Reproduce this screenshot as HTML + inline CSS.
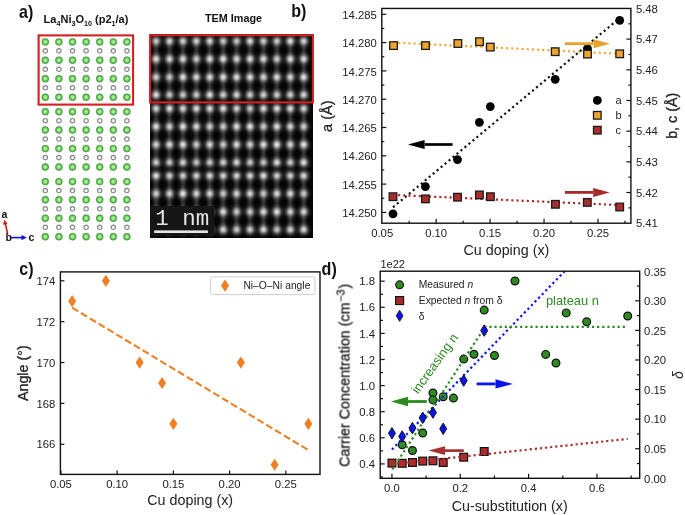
<!DOCTYPE html><html><head><meta charset="utf-8"><style>html,body{margin:0;padding:0;background:#fff;}svg{display:block;will-change:transform;}text{font-family:"Liberation Sans",sans-serif;}</style></head><body>
<svg width="685" height="515" viewBox="0 0 685 515">
<defs><radialGradient id="gg" cx="50%" cy="50%" r="50%"><stop offset="0" stop-color="#c4f9b4"/><stop offset="0.45" stop-color="#92e27e"/><stop offset="0.8" stop-color="#55b24c"/><stop offset="1" stop-color="#3f9a3a"/></radialGradient><radialGradient id="spot" cx="50%" cy="50%" r="50%"><stop offset="0" stop-color="#fff" stop-opacity="0.95"/><stop offset="0.35" stop-color="#fff" stop-opacity="0.75"/><stop offset="0.7" stop-color="#fff" stop-opacity="0.25"/><stop offset="1" stop-color="#fff" stop-opacity="0"/></radialGradient><radialGradient id="spot2" cx="50%" cy="50%" r="50%"><stop offset="0" stop-color="#fff" stop-opacity="0.32"/><stop offset="1" stop-color="#fff" stop-opacity="0"/></radialGradient></defs>
<text x="0" y="0" font-size="17.5" font-weight="bold" fill="#111" transform="translate(19.0 18.3) scale(0.92 1)">a)</text>
<text x="43.6" y="23" font-size="11" font-weight="bold" fill="#111">La<tspan font-size="7.2" dy="3">4</tspan><tspan dy="-3">Ni</tspan><tspan font-size="7.2" dy="3">3</tspan><tspan dy="-3">O</tspan><tspan font-size="7.2" dy="3">10</tspan><tspan dy="-3"> (p2</tspan><tspan font-size="7.2" dy="3">1</tspan><tspan dy="-3">/a)</tspan></text>
<circle cx="45.3" cy="41.9" r="3.45" fill="url(#gg)" stroke="#48a042" stroke-width="0.7"/>
<circle cx="58.9" cy="41.9" r="3.45" fill="url(#gg)" stroke="#48a042" stroke-width="0.7"/>
<circle cx="72.5" cy="41.9" r="3.45" fill="url(#gg)" stroke="#48a042" stroke-width="0.7"/>
<circle cx="86.1" cy="41.9" r="3.45" fill="url(#gg)" stroke="#48a042" stroke-width="0.7"/>
<circle cx="99.7" cy="41.9" r="3.45" fill="url(#gg)" stroke="#48a042" stroke-width="0.7"/>
<circle cx="113.3" cy="41.9" r="3.45" fill="url(#gg)" stroke="#48a042" stroke-width="0.7"/>
<circle cx="126.9" cy="41.9" r="3.45" fill="url(#gg)" stroke="#48a042" stroke-width="0.7"/>
<circle cx="45.3" cy="50.85" r="2.2" fill="#f6f6f6" stroke="#888" stroke-width="1.15"/>
<circle cx="58.9" cy="50.85" r="2.2" fill="#f6f6f6" stroke="#888" stroke-width="1.15"/>
<circle cx="72.5" cy="50.85" r="2.2" fill="#f6f6f6" stroke="#888" stroke-width="1.15"/>
<circle cx="86.1" cy="50.85" r="2.2" fill="#f6f6f6" stroke="#888" stroke-width="1.15"/>
<circle cx="99.7" cy="50.85" r="2.2" fill="#f6f6f6" stroke="#888" stroke-width="1.15"/>
<circle cx="113.3" cy="50.85" r="2.2" fill="#f6f6f6" stroke="#888" stroke-width="1.15"/>
<circle cx="126.9" cy="50.85" r="2.2" fill="#f6f6f6" stroke="#888" stroke-width="1.15"/>
<circle cx="45.3" cy="60.2" r="3.45" fill="url(#gg)" stroke="#48a042" stroke-width="0.7"/>
<circle cx="58.9" cy="60.2" r="3.45" fill="url(#gg)" stroke="#48a042" stroke-width="0.7"/>
<circle cx="72.5" cy="60.2" r="3.45" fill="url(#gg)" stroke="#48a042" stroke-width="0.7"/>
<circle cx="86.1" cy="60.2" r="3.45" fill="url(#gg)" stroke="#48a042" stroke-width="0.7"/>
<circle cx="99.7" cy="60.2" r="3.45" fill="url(#gg)" stroke="#48a042" stroke-width="0.7"/>
<circle cx="113.3" cy="60.2" r="3.45" fill="url(#gg)" stroke="#48a042" stroke-width="0.7"/>
<circle cx="126.9" cy="60.2" r="3.45" fill="url(#gg)" stroke="#48a042" stroke-width="0.7"/>
<circle cx="45.3" cy="69.25" r="2.2" fill="#f6f6f6" stroke="#888" stroke-width="1.15"/>
<circle cx="58.9" cy="69.25" r="2.2" fill="#f6f6f6" stroke="#888" stroke-width="1.15"/>
<circle cx="72.5" cy="69.25" r="2.2" fill="#f6f6f6" stroke="#888" stroke-width="1.15"/>
<circle cx="86.1" cy="69.25" r="2.2" fill="#f6f6f6" stroke="#888" stroke-width="1.15"/>
<circle cx="99.7" cy="69.25" r="2.2" fill="#f6f6f6" stroke="#888" stroke-width="1.15"/>
<circle cx="113.3" cy="69.25" r="2.2" fill="#f6f6f6" stroke="#888" stroke-width="1.15"/>
<circle cx="126.9" cy="69.25" r="2.2" fill="#f6f6f6" stroke="#888" stroke-width="1.15"/>
<circle cx="45.3" cy="78.7" r="3.45" fill="url(#gg)" stroke="#48a042" stroke-width="0.7"/>
<circle cx="58.9" cy="78.7" r="3.45" fill="url(#gg)" stroke="#48a042" stroke-width="0.7"/>
<circle cx="72.5" cy="78.7" r="3.45" fill="url(#gg)" stroke="#48a042" stroke-width="0.7"/>
<circle cx="86.1" cy="78.7" r="3.45" fill="url(#gg)" stroke="#48a042" stroke-width="0.7"/>
<circle cx="99.7" cy="78.7" r="3.45" fill="url(#gg)" stroke="#48a042" stroke-width="0.7"/>
<circle cx="113.3" cy="78.7" r="3.45" fill="url(#gg)" stroke="#48a042" stroke-width="0.7"/>
<circle cx="126.9" cy="78.7" r="3.45" fill="url(#gg)" stroke="#48a042" stroke-width="0.7"/>
<circle cx="45.3" cy="87.75" r="2.2" fill="#f6f6f6" stroke="#888" stroke-width="1.15"/>
<circle cx="58.9" cy="87.75" r="2.2" fill="#f6f6f6" stroke="#888" stroke-width="1.15"/>
<circle cx="72.5" cy="87.75" r="2.2" fill="#f6f6f6" stroke="#888" stroke-width="1.15"/>
<circle cx="86.1" cy="87.75" r="2.2" fill="#f6f6f6" stroke="#888" stroke-width="1.15"/>
<circle cx="99.7" cy="87.75" r="2.2" fill="#f6f6f6" stroke="#888" stroke-width="1.15"/>
<circle cx="113.3" cy="87.75" r="2.2" fill="#f6f6f6" stroke="#888" stroke-width="1.15"/>
<circle cx="126.9" cy="87.75" r="2.2" fill="#f6f6f6" stroke="#888" stroke-width="1.15"/>
<circle cx="45.3" cy="97.2" r="3.45" fill="url(#gg)" stroke="#48a042" stroke-width="0.7"/>
<circle cx="58.9" cy="97.2" r="3.45" fill="url(#gg)" stroke="#48a042" stroke-width="0.7"/>
<circle cx="72.5" cy="97.2" r="3.45" fill="url(#gg)" stroke="#48a042" stroke-width="0.7"/>
<circle cx="86.1" cy="97.2" r="3.45" fill="url(#gg)" stroke="#48a042" stroke-width="0.7"/>
<circle cx="99.7" cy="97.2" r="3.45" fill="url(#gg)" stroke="#48a042" stroke-width="0.7"/>
<circle cx="113.3" cy="97.2" r="3.45" fill="url(#gg)" stroke="#48a042" stroke-width="0.7"/>
<circle cx="126.9" cy="97.2" r="3.45" fill="url(#gg)" stroke="#48a042" stroke-width="0.7"/>
<circle cx="45.3" cy="111.7" r="3.45" fill="url(#gg)" stroke="#48a042" stroke-width="0.7"/>
<circle cx="58.9" cy="111.7" r="3.45" fill="url(#gg)" stroke="#48a042" stroke-width="0.7"/>
<circle cx="72.5" cy="111.7" r="3.45" fill="url(#gg)" stroke="#48a042" stroke-width="0.7"/>
<circle cx="86.1" cy="111.7" r="3.45" fill="url(#gg)" stroke="#48a042" stroke-width="0.7"/>
<circle cx="99.7" cy="111.7" r="3.45" fill="url(#gg)" stroke="#48a042" stroke-width="0.7"/>
<circle cx="113.3" cy="111.7" r="3.45" fill="url(#gg)" stroke="#48a042" stroke-width="0.7"/>
<circle cx="126.9" cy="111.7" r="3.45" fill="url(#gg)" stroke="#48a042" stroke-width="0.7"/>
<circle cx="45.3" cy="120.65" r="2.2" fill="#f6f6f6" stroke="#888" stroke-width="1.15"/>
<circle cx="58.9" cy="120.65" r="2.2" fill="#f6f6f6" stroke="#888" stroke-width="1.15"/>
<circle cx="72.5" cy="120.65" r="2.2" fill="#f6f6f6" stroke="#888" stroke-width="1.15"/>
<circle cx="86.1" cy="120.65" r="2.2" fill="#f6f6f6" stroke="#888" stroke-width="1.15"/>
<circle cx="99.7" cy="120.65" r="2.2" fill="#f6f6f6" stroke="#888" stroke-width="1.15"/>
<circle cx="113.3" cy="120.65" r="2.2" fill="#f6f6f6" stroke="#888" stroke-width="1.15"/>
<circle cx="126.9" cy="120.65" r="2.2" fill="#f6f6f6" stroke="#888" stroke-width="1.15"/>
<circle cx="45.3" cy="130" r="3.45" fill="url(#gg)" stroke="#48a042" stroke-width="0.7"/>
<circle cx="58.9" cy="130" r="3.45" fill="url(#gg)" stroke="#48a042" stroke-width="0.7"/>
<circle cx="72.5" cy="130" r="3.45" fill="url(#gg)" stroke="#48a042" stroke-width="0.7"/>
<circle cx="86.1" cy="130" r="3.45" fill="url(#gg)" stroke="#48a042" stroke-width="0.7"/>
<circle cx="99.7" cy="130" r="3.45" fill="url(#gg)" stroke="#48a042" stroke-width="0.7"/>
<circle cx="113.3" cy="130" r="3.45" fill="url(#gg)" stroke="#48a042" stroke-width="0.7"/>
<circle cx="126.9" cy="130" r="3.45" fill="url(#gg)" stroke="#48a042" stroke-width="0.7"/>
<circle cx="45.3" cy="139.1" r="2.2" fill="#f6f6f6" stroke="#888" stroke-width="1.15"/>
<circle cx="58.9" cy="139.1" r="2.2" fill="#f6f6f6" stroke="#888" stroke-width="1.15"/>
<circle cx="72.5" cy="139.1" r="2.2" fill="#f6f6f6" stroke="#888" stroke-width="1.15"/>
<circle cx="86.1" cy="139.1" r="2.2" fill="#f6f6f6" stroke="#888" stroke-width="1.15"/>
<circle cx="99.7" cy="139.1" r="2.2" fill="#f6f6f6" stroke="#888" stroke-width="1.15"/>
<circle cx="113.3" cy="139.1" r="2.2" fill="#f6f6f6" stroke="#888" stroke-width="1.15"/>
<circle cx="126.9" cy="139.1" r="2.2" fill="#f6f6f6" stroke="#888" stroke-width="1.15"/>
<circle cx="45.3" cy="148.6" r="3.45" fill="url(#gg)" stroke="#48a042" stroke-width="0.7"/>
<circle cx="58.9" cy="148.6" r="3.45" fill="url(#gg)" stroke="#48a042" stroke-width="0.7"/>
<circle cx="72.5" cy="148.6" r="3.45" fill="url(#gg)" stroke="#48a042" stroke-width="0.7"/>
<circle cx="86.1" cy="148.6" r="3.45" fill="url(#gg)" stroke="#48a042" stroke-width="0.7"/>
<circle cx="99.7" cy="148.6" r="3.45" fill="url(#gg)" stroke="#48a042" stroke-width="0.7"/>
<circle cx="113.3" cy="148.6" r="3.45" fill="url(#gg)" stroke="#48a042" stroke-width="0.7"/>
<circle cx="126.9" cy="148.6" r="3.45" fill="url(#gg)" stroke="#48a042" stroke-width="0.7"/>
<circle cx="45.3" cy="157.6" r="2.2" fill="#f6f6f6" stroke="#888" stroke-width="1.15"/>
<circle cx="58.9" cy="157.6" r="2.2" fill="#f6f6f6" stroke="#888" stroke-width="1.15"/>
<circle cx="72.5" cy="157.6" r="2.2" fill="#f6f6f6" stroke="#888" stroke-width="1.15"/>
<circle cx="86.1" cy="157.6" r="2.2" fill="#f6f6f6" stroke="#888" stroke-width="1.15"/>
<circle cx="99.7" cy="157.6" r="2.2" fill="#f6f6f6" stroke="#888" stroke-width="1.15"/>
<circle cx="113.3" cy="157.6" r="2.2" fill="#f6f6f6" stroke="#888" stroke-width="1.15"/>
<circle cx="126.9" cy="157.6" r="2.2" fill="#f6f6f6" stroke="#888" stroke-width="1.15"/>
<circle cx="45.3" cy="167" r="3.45" fill="url(#gg)" stroke="#48a042" stroke-width="0.7"/>
<circle cx="58.9" cy="167" r="3.45" fill="url(#gg)" stroke="#48a042" stroke-width="0.7"/>
<circle cx="72.5" cy="167" r="3.45" fill="url(#gg)" stroke="#48a042" stroke-width="0.7"/>
<circle cx="86.1" cy="167" r="3.45" fill="url(#gg)" stroke="#48a042" stroke-width="0.7"/>
<circle cx="99.7" cy="167" r="3.45" fill="url(#gg)" stroke="#48a042" stroke-width="0.7"/>
<circle cx="113.3" cy="167" r="3.45" fill="url(#gg)" stroke="#48a042" stroke-width="0.7"/>
<circle cx="126.9" cy="167" r="3.45" fill="url(#gg)" stroke="#48a042" stroke-width="0.7"/>
<circle cx="45.3" cy="181.6" r="3.45" fill="url(#gg)" stroke="#48a042" stroke-width="0.7"/>
<circle cx="58.9" cy="181.6" r="3.45" fill="url(#gg)" stroke="#48a042" stroke-width="0.7"/>
<circle cx="72.5" cy="181.6" r="3.45" fill="url(#gg)" stroke="#48a042" stroke-width="0.7"/>
<circle cx="86.1" cy="181.6" r="3.45" fill="url(#gg)" stroke="#48a042" stroke-width="0.7"/>
<circle cx="99.7" cy="181.6" r="3.45" fill="url(#gg)" stroke="#48a042" stroke-width="0.7"/>
<circle cx="113.3" cy="181.6" r="3.45" fill="url(#gg)" stroke="#48a042" stroke-width="0.7"/>
<circle cx="126.9" cy="181.6" r="3.45" fill="url(#gg)" stroke="#48a042" stroke-width="0.7"/>
<circle cx="45.3" cy="190.5" r="2.2" fill="#f6f6f6" stroke="#888" stroke-width="1.15"/>
<circle cx="58.9" cy="190.5" r="2.2" fill="#f6f6f6" stroke="#888" stroke-width="1.15"/>
<circle cx="72.5" cy="190.5" r="2.2" fill="#f6f6f6" stroke="#888" stroke-width="1.15"/>
<circle cx="86.1" cy="190.5" r="2.2" fill="#f6f6f6" stroke="#888" stroke-width="1.15"/>
<circle cx="99.7" cy="190.5" r="2.2" fill="#f6f6f6" stroke="#888" stroke-width="1.15"/>
<circle cx="113.3" cy="190.5" r="2.2" fill="#f6f6f6" stroke="#888" stroke-width="1.15"/>
<circle cx="126.9" cy="190.5" r="2.2" fill="#f6f6f6" stroke="#888" stroke-width="1.15"/>
<circle cx="45.3" cy="199.8" r="3.45" fill="url(#gg)" stroke="#48a042" stroke-width="0.7"/>
<circle cx="58.9" cy="199.8" r="3.45" fill="url(#gg)" stroke="#48a042" stroke-width="0.7"/>
<circle cx="72.5" cy="199.8" r="3.45" fill="url(#gg)" stroke="#48a042" stroke-width="0.7"/>
<circle cx="86.1" cy="199.8" r="3.45" fill="url(#gg)" stroke="#48a042" stroke-width="0.7"/>
<circle cx="99.7" cy="199.8" r="3.45" fill="url(#gg)" stroke="#48a042" stroke-width="0.7"/>
<circle cx="113.3" cy="199.8" r="3.45" fill="url(#gg)" stroke="#48a042" stroke-width="0.7"/>
<circle cx="126.9" cy="199.8" r="3.45" fill="url(#gg)" stroke="#48a042" stroke-width="0.7"/>
<circle cx="45.3" cy="208.8" r="2.2" fill="#f6f6f6" stroke="#888" stroke-width="1.15"/>
<circle cx="58.9" cy="208.8" r="2.2" fill="#f6f6f6" stroke="#888" stroke-width="1.15"/>
<circle cx="72.5" cy="208.8" r="2.2" fill="#f6f6f6" stroke="#888" stroke-width="1.15"/>
<circle cx="86.1" cy="208.8" r="2.2" fill="#f6f6f6" stroke="#888" stroke-width="1.15"/>
<circle cx="99.7" cy="208.8" r="2.2" fill="#f6f6f6" stroke="#888" stroke-width="1.15"/>
<circle cx="113.3" cy="208.8" r="2.2" fill="#f6f6f6" stroke="#888" stroke-width="1.15"/>
<circle cx="126.9" cy="208.8" r="2.2" fill="#f6f6f6" stroke="#888" stroke-width="1.15"/>
<circle cx="45.3" cy="218.2" r="3.45" fill="url(#gg)" stroke="#48a042" stroke-width="0.7"/>
<circle cx="58.9" cy="218.2" r="3.45" fill="url(#gg)" stroke="#48a042" stroke-width="0.7"/>
<circle cx="72.5" cy="218.2" r="3.45" fill="url(#gg)" stroke="#48a042" stroke-width="0.7"/>
<circle cx="86.1" cy="218.2" r="3.45" fill="url(#gg)" stroke="#48a042" stroke-width="0.7"/>
<circle cx="99.7" cy="218.2" r="3.45" fill="url(#gg)" stroke="#48a042" stroke-width="0.7"/>
<circle cx="113.3" cy="218.2" r="3.45" fill="url(#gg)" stroke="#48a042" stroke-width="0.7"/>
<circle cx="126.9" cy="218.2" r="3.45" fill="url(#gg)" stroke="#48a042" stroke-width="0.7"/>
<circle cx="45.3" cy="227.25" r="2.2" fill="#f6f6f6" stroke="#888" stroke-width="1.15"/>
<circle cx="58.9" cy="227.25" r="2.2" fill="#f6f6f6" stroke="#888" stroke-width="1.15"/>
<circle cx="72.5" cy="227.25" r="2.2" fill="#f6f6f6" stroke="#888" stroke-width="1.15"/>
<circle cx="86.1" cy="227.25" r="2.2" fill="#f6f6f6" stroke="#888" stroke-width="1.15"/>
<circle cx="99.7" cy="227.25" r="2.2" fill="#f6f6f6" stroke="#888" stroke-width="1.15"/>
<circle cx="113.3" cy="227.25" r="2.2" fill="#f6f6f6" stroke="#888" stroke-width="1.15"/>
<circle cx="126.9" cy="227.25" r="2.2" fill="#f6f6f6" stroke="#888" stroke-width="1.15"/>
<circle cx="45.3" cy="236.7" r="3.45" fill="url(#gg)" stroke="#48a042" stroke-width="0.7"/>
<circle cx="58.9" cy="236.7" r="3.45" fill="url(#gg)" stroke="#48a042" stroke-width="0.7"/>
<circle cx="72.5" cy="236.7" r="3.45" fill="url(#gg)" stroke="#48a042" stroke-width="0.7"/>
<circle cx="86.1" cy="236.7" r="3.45" fill="url(#gg)" stroke="#48a042" stroke-width="0.7"/>
<circle cx="99.7" cy="236.7" r="3.45" fill="url(#gg)" stroke="#48a042" stroke-width="0.7"/>
<circle cx="113.3" cy="236.7" r="3.45" fill="url(#gg)" stroke="#48a042" stroke-width="0.7"/>
<circle cx="126.9" cy="236.7" r="3.45" fill="url(#gg)" stroke="#48a042" stroke-width="0.7"/>
<rect x="38.6" y="35.4" width="94.5" height="69.2" fill="none" stroke="#d42020" stroke-width="2.1"/>
<line x1="11" y1="237.6" x2="22.5" y2="237.6" stroke="#1010e0" stroke-width="1.6"/>
<path d="M26.8 237.6L21.5 235L21.5 240.2Z" fill="#1010e0"/>
<line x1="7.6" y1="234" x2="5.4" y2="223.5" stroke="#d01c1c" stroke-width="1.6"/>
<path d="M4.5 219.4L3 224.8L7.6 224Z" fill="#d01c1c"/>
<text x="1.4" y="218" font-size="10.5" text-anchor="start" fill="#111" font-weight="bold" >a</text>
<text x="5.6" y="240.6" font-size="10.5" text-anchor="start" fill="#111" font-weight="bold" >b</text>
<text x="28.6" y="240.6" font-size="10.5" text-anchor="start" fill="#111" font-weight="bold" >c</text>
<text x="205" y="22.3" font-size="10.8" text-anchor="start" fill="#111" font-weight="bold" >TEM Image</text>
<svg x="150" y="34" width="163" height="203.6" overflow="hidden"><defs><filter id="bl" x="-10%" y="-10%" width="120%" height="120%"><feGaussianBlur stdDeviation="1.6"/></filter><radialGradient id="tsp" cx="50%" cy="50%" r="50%"><stop offset="0.000" stop-color="#fff" stop-opacity="0.880"/><stop offset="0.083" stop-color="#fff" stop-opacity="0.851"/><stop offset="0.167" stop-color="#fff" stop-opacity="0.770"/><stop offset="0.250" stop-color="#fff" stop-opacity="0.651"/><stop offset="0.333" stop-color="#fff" stop-opacity="0.515"/><stop offset="0.417" stop-color="#fff" stop-opacity="0.381"/><stop offset="0.500" stop-color="#fff" stop-opacity="0.264"/><stop offset="0.583" stop-color="#fff" stop-opacity="0.171"/><stop offset="0.667" stop-color="#fff" stop-opacity="0.104"/><stop offset="0.750" stop-color="#fff" stop-opacity="0.059"/><stop offset="0.833" stop-color="#fff" stop-opacity="0.031"/><stop offset="0.917" stop-color="#fff" stop-opacity="0.015"/><stop offset="1.000" stop-color="#fff" stop-opacity="0.000"/></radialGradient></defs><rect width="163" height="204" fill="#050505"/><g filter="url(#bl)">
<rect x="4.5" y="7" width="3.2" height="18" fill="#444"/>
<rect x="17.92" y="7" width="3.2" height="18" fill="#444"/>
<rect x="31.34" y="7" width="3.2" height="18" fill="#444"/>
<rect x="44.76" y="7" width="3.2" height="18" fill="#444"/>
<rect x="58.18" y="7" width="3.2" height="18" fill="#444"/>
<rect x="71.6" y="7" width="3.2" height="18" fill="#444"/>
<rect x="85.02" y="7" width="3.2" height="18" fill="#444"/>
<rect x="98.44" y="7" width="3.2" height="18" fill="#444"/>
<rect x="111.86" y="7" width="3.2" height="18" fill="#444"/>
<rect x="125.28" y="7" width="3.2" height="18" fill="#444"/>
<rect x="138.7" y="7" width="3.2" height="18" fill="#444"/>
<rect x="152.12" y="7" width="3.2" height="18" fill="#444"/>
<rect x="4.5" y="25" width="3.2" height="18.2" fill="#444"/>
<rect x="17.92" y="25" width="3.2" height="18.2" fill="#444"/>
<rect x="31.34" y="25" width="3.2" height="18.2" fill="#444"/>
<rect x="44.76" y="25" width="3.2" height="18.2" fill="#444"/>
<rect x="58.18" y="25" width="3.2" height="18.2" fill="#444"/>
<rect x="71.6" y="25" width="3.2" height="18.2" fill="#444"/>
<rect x="85.02" y="25" width="3.2" height="18.2" fill="#444"/>
<rect x="98.44" y="25" width="3.2" height="18.2" fill="#444"/>
<rect x="111.86" y="25" width="3.2" height="18.2" fill="#444"/>
<rect x="125.28" y="25" width="3.2" height="18.2" fill="#444"/>
<rect x="138.7" y="25" width="3.2" height="18.2" fill="#444"/>
<rect x="152.12" y="25" width="3.2" height="18.2" fill="#444"/>
<rect x="4.5" y="43.2" width="3.2" height="17.8" fill="#444"/>
<rect x="17.92" y="43.2" width="3.2" height="17.8" fill="#444"/>
<rect x="31.34" y="43.2" width="3.2" height="17.8" fill="#444"/>
<rect x="44.76" y="43.2" width="3.2" height="17.8" fill="#444"/>
<rect x="58.18" y="43.2" width="3.2" height="17.8" fill="#444"/>
<rect x="71.6" y="43.2" width="3.2" height="17.8" fill="#444"/>
<rect x="85.02" y="43.2" width="3.2" height="17.8" fill="#444"/>
<rect x="98.44" y="43.2" width="3.2" height="17.8" fill="#444"/>
<rect x="111.86" y="43.2" width="3.2" height="17.8" fill="#444"/>
<rect x="125.28" y="43.2" width="3.2" height="17.8" fill="#444"/>
<rect x="138.7" y="43.2" width="3.2" height="17.8" fill="#444"/>
<rect x="152.12" y="43.2" width="3.2" height="17.8" fill="#444"/>
<rect x="4.5" y="74.4" width="3.2" height="18.2" fill="#444"/>
<rect x="17.92" y="74.4" width="3.2" height="18.2" fill="#444"/>
<rect x="31.34" y="74.4" width="3.2" height="18.2" fill="#444"/>
<rect x="44.76" y="74.4" width="3.2" height="18.2" fill="#444"/>
<rect x="58.18" y="74.4" width="3.2" height="18.2" fill="#444"/>
<rect x="71.6" y="74.4" width="3.2" height="18.2" fill="#444"/>
<rect x="85.02" y="74.4" width="3.2" height="18.2" fill="#444"/>
<rect x="98.44" y="74.4" width="3.2" height="18.2" fill="#444"/>
<rect x="111.86" y="74.4" width="3.2" height="18.2" fill="#444"/>
<rect x="125.28" y="74.4" width="3.2" height="18.2" fill="#444"/>
<rect x="138.7" y="74.4" width="3.2" height="18.2" fill="#444"/>
<rect x="152.12" y="74.4" width="3.2" height="18.2" fill="#444"/>
<rect x="4.5" y="92.6" width="3.2" height="18" fill="#444"/>
<rect x="17.92" y="92.6" width="3.2" height="18" fill="#444"/>
<rect x="31.34" y="92.6" width="3.2" height="18" fill="#444"/>
<rect x="44.76" y="92.6" width="3.2" height="18" fill="#444"/>
<rect x="58.18" y="92.6" width="3.2" height="18" fill="#444"/>
<rect x="71.6" y="92.6" width="3.2" height="18" fill="#444"/>
<rect x="85.02" y="92.6" width="3.2" height="18" fill="#444"/>
<rect x="98.44" y="92.6" width="3.2" height="18" fill="#444"/>
<rect x="111.86" y="92.6" width="3.2" height="18" fill="#444"/>
<rect x="125.28" y="92.6" width="3.2" height="18" fill="#444"/>
<rect x="138.7" y="92.6" width="3.2" height="18" fill="#444"/>
<rect x="152.12" y="92.6" width="3.2" height="18" fill="#444"/>
<rect x="4.5" y="110.6" width="3.2" height="18" fill="#444"/>
<rect x="17.92" y="110.6" width="3.2" height="18" fill="#444"/>
<rect x="31.34" y="110.6" width="3.2" height="18" fill="#444"/>
<rect x="44.76" y="110.6" width="3.2" height="18" fill="#444"/>
<rect x="58.18" y="110.6" width="3.2" height="18" fill="#444"/>
<rect x="71.6" y="110.6" width="3.2" height="18" fill="#444"/>
<rect x="85.02" y="110.6" width="3.2" height="18" fill="#444"/>
<rect x="98.44" y="110.6" width="3.2" height="18" fill="#444"/>
<rect x="111.86" y="110.6" width="3.2" height="18" fill="#444"/>
<rect x="125.28" y="110.6" width="3.2" height="18" fill="#444"/>
<rect x="138.7" y="110.6" width="3.2" height="18" fill="#444"/>
<rect x="152.12" y="110.6" width="3.2" height="18" fill="#444"/>
<rect x="4.5" y="141.6" width="3.2" height="18" fill="#444"/>
<rect x="17.92" y="141.6" width="3.2" height="18" fill="#444"/>
<rect x="31.34" y="141.6" width="3.2" height="18" fill="#444"/>
<rect x="44.76" y="141.6" width="3.2" height="18" fill="#444"/>
<rect x="58.18" y="141.6" width="3.2" height="18" fill="#444"/>
<rect x="71.6" y="141.6" width="3.2" height="18" fill="#444"/>
<rect x="85.02" y="141.6" width="3.2" height="18" fill="#444"/>
<rect x="98.44" y="141.6" width="3.2" height="18" fill="#444"/>
<rect x="111.86" y="141.6" width="3.2" height="18" fill="#444"/>
<rect x="125.28" y="141.6" width="3.2" height="18" fill="#444"/>
<rect x="138.7" y="141.6" width="3.2" height="18" fill="#444"/>
<rect x="152.12" y="141.6" width="3.2" height="18" fill="#444"/>
<rect x="4.5" y="159.6" width="3.2" height="18.2" fill="#444"/>
<rect x="17.92" y="159.6" width="3.2" height="18.2" fill="#444"/>
<rect x="31.34" y="159.6" width="3.2" height="18.2" fill="#444"/>
<rect x="44.76" y="159.6" width="3.2" height="18.2" fill="#444"/>
<rect x="58.18" y="159.6" width="3.2" height="18.2" fill="#444"/>
<rect x="71.6" y="159.6" width="3.2" height="18.2" fill="#444"/>
<rect x="85.02" y="159.6" width="3.2" height="18.2" fill="#444"/>
<rect x="98.44" y="159.6" width="3.2" height="18.2" fill="#444"/>
<rect x="111.86" y="159.6" width="3.2" height="18.2" fill="#444"/>
<rect x="125.28" y="159.6" width="3.2" height="18.2" fill="#444"/>
<rect x="138.7" y="159.6" width="3.2" height="18.2" fill="#444"/>
<rect x="152.12" y="159.6" width="3.2" height="18.2" fill="#444"/>
<rect x="4.5" y="177.8" width="3.2" height="18" fill="#444"/>
<rect x="17.92" y="177.8" width="3.2" height="18" fill="#444"/>
<rect x="31.34" y="177.8" width="3.2" height="18" fill="#444"/>
<rect x="44.76" y="177.8" width="3.2" height="18" fill="#444"/>
<rect x="58.18" y="177.8" width="3.2" height="18" fill="#444"/>
<rect x="71.6" y="177.8" width="3.2" height="18" fill="#444"/>
<rect x="85.02" y="177.8" width="3.2" height="18" fill="#444"/>
<rect x="98.44" y="177.8" width="3.2" height="18" fill="#444"/>
<rect x="111.86" y="177.8" width="3.2" height="18" fill="#444"/>
<rect x="125.28" y="177.8" width="3.2" height="18" fill="#444"/>
<rect x="138.7" y="177.8" width="3.2" height="18" fill="#444"/>
<rect x="152.12" y="177.8" width="3.2" height="18" fill="#444"/>
</g>
<circle cx="6.1" cy="7" r="9.0" fill="url(#tsp)" opacity="0.89"/>
<circle cx="19.52" cy="7" r="9.0" fill="url(#tsp)" opacity="0.94"/>
<circle cx="32.94" cy="7" r="9.0" fill="url(#tsp)" opacity="0.91"/>
<circle cx="46.36" cy="7" r="9.0" fill="url(#tsp)" opacity="0.94"/>
<circle cx="59.78" cy="7" r="9.0" fill="url(#tsp)" opacity="0.95"/>
<circle cx="73.2" cy="7" r="9.0" fill="url(#tsp)" opacity="0.87"/>
<circle cx="86.62" cy="7" r="9.0" fill="url(#tsp)" opacity="0.86"/>
<circle cx="100.04" cy="7" r="9.0" fill="url(#tsp)" opacity="0.98"/>
<circle cx="113.46" cy="7" r="9.0" fill="url(#tsp)" opacity="0.90"/>
<circle cx="126.88" cy="7" r="9.0" fill="url(#tsp)" opacity="0.89"/>
<circle cx="140.3" cy="7" r="9.0" fill="url(#tsp)" opacity="1.00"/>
<circle cx="153.72" cy="7" r="9.0" fill="url(#tsp)" opacity="0.93"/>
<circle cx="6.1" cy="25" r="9.0" fill="url(#tsp)" opacity="0.98"/>
<circle cx="19.52" cy="25" r="9.0" fill="url(#tsp)" opacity="0.93"/>
<circle cx="32.94" cy="25" r="9.0" fill="url(#tsp)" opacity="0.95"/>
<circle cx="46.36" cy="25" r="9.0" fill="url(#tsp)" opacity="0.88"/>
<circle cx="59.78" cy="25" r="9.0" fill="url(#tsp)" opacity="0.95"/>
<circle cx="73.2" cy="25" r="9.0" fill="url(#tsp)" opacity="0.98"/>
<circle cx="86.62" cy="25" r="9.0" fill="url(#tsp)" opacity="0.93"/>
<circle cx="100.04" cy="25" r="9.0" fill="url(#tsp)" opacity="0.96"/>
<circle cx="113.46" cy="25" r="9.0" fill="url(#tsp)" opacity="0.95"/>
<circle cx="126.88" cy="25" r="9.0" fill="url(#tsp)" opacity="0.87"/>
<circle cx="140.3" cy="25" r="9.0" fill="url(#tsp)" opacity="0.97"/>
<circle cx="153.72" cy="25" r="9.0" fill="url(#tsp)" opacity="0.94"/>
<circle cx="6.1" cy="43.2" r="9.0" fill="url(#tsp)" opacity="0.90"/>
<circle cx="19.52" cy="43.2" r="9.0" fill="url(#tsp)" opacity="0.86"/>
<circle cx="32.94" cy="43.2" r="9.0" fill="url(#tsp)" opacity="0.98"/>
<circle cx="46.36" cy="43.2" r="9.0" fill="url(#tsp)" opacity="0.93"/>
<circle cx="59.78" cy="43.2" r="9.0" fill="url(#tsp)" opacity="0.96"/>
<circle cx="73.2" cy="43.2" r="9.0" fill="url(#tsp)" opacity="0.98"/>
<circle cx="86.62" cy="43.2" r="9.0" fill="url(#tsp)" opacity="0.96"/>
<circle cx="100.04" cy="43.2" r="9.0" fill="url(#tsp)" opacity="0.99"/>
<circle cx="113.46" cy="43.2" r="9.0" fill="url(#tsp)" opacity="0.92"/>
<circle cx="126.88" cy="43.2" r="9.0" fill="url(#tsp)" opacity="0.97"/>
<circle cx="140.3" cy="43.2" r="9.0" fill="url(#tsp)" opacity="0.92"/>
<circle cx="153.72" cy="43.2" r="9.0" fill="url(#tsp)" opacity="0.99"/>
<circle cx="6.1" cy="61" r="9.0" fill="url(#tsp)" opacity="0.98"/>
<circle cx="19.52" cy="61" r="9.0" fill="url(#tsp)" opacity="0.87"/>
<circle cx="32.94" cy="61" r="9.0" fill="url(#tsp)" opacity="0.88"/>
<circle cx="46.36" cy="61" r="9.0" fill="url(#tsp)" opacity="0.89"/>
<circle cx="59.78" cy="61" r="9.0" fill="url(#tsp)" opacity="1.00"/>
<circle cx="73.2" cy="61" r="9.0" fill="url(#tsp)" opacity="0.92"/>
<circle cx="86.62" cy="61" r="9.0" fill="url(#tsp)" opacity="0.95"/>
<circle cx="100.04" cy="61" r="9.0" fill="url(#tsp)" opacity="0.90"/>
<circle cx="113.46" cy="61" r="9.0" fill="url(#tsp)" opacity="0.93"/>
<circle cx="126.88" cy="61" r="9.0" fill="url(#tsp)" opacity="0.91"/>
<circle cx="140.3" cy="61" r="9.0" fill="url(#tsp)" opacity="0.91"/>
<circle cx="153.72" cy="61" r="9.0" fill="url(#tsp)" opacity="0.94"/>
<circle cx="6.1" cy="74.4" r="9.0" fill="url(#tsp)" opacity="0.94"/>
<circle cx="19.52" cy="74.4" r="9.0" fill="url(#tsp)" opacity="0.99"/>
<circle cx="32.94" cy="74.4" r="9.0" fill="url(#tsp)" opacity="0.96"/>
<circle cx="46.36" cy="74.4" r="9.0" fill="url(#tsp)" opacity="0.99"/>
<circle cx="59.78" cy="74.4" r="9.0" fill="url(#tsp)" opacity="0.98"/>
<circle cx="73.2" cy="74.4" r="9.0" fill="url(#tsp)" opacity="1.00"/>
<circle cx="86.62" cy="74.4" r="9.0" fill="url(#tsp)" opacity="0.95"/>
<circle cx="100.04" cy="74.4" r="9.0" fill="url(#tsp)" opacity="0.88"/>
<circle cx="113.46" cy="74.4" r="9.0" fill="url(#tsp)" opacity="0.98"/>
<circle cx="126.88" cy="74.4" r="9.0" fill="url(#tsp)" opacity="1.00"/>
<circle cx="140.3" cy="74.4" r="9.0" fill="url(#tsp)" opacity="0.99"/>
<circle cx="153.72" cy="74.4" r="9.0" fill="url(#tsp)" opacity="0.94"/>
<circle cx="6.1" cy="92.6" r="9.0" fill="url(#tsp)" opacity="0.96"/>
<circle cx="19.52" cy="92.6" r="9.0" fill="url(#tsp)" opacity="0.89"/>
<circle cx="32.94" cy="92.6" r="9.0" fill="url(#tsp)" opacity="0.98"/>
<circle cx="46.36" cy="92.6" r="9.0" fill="url(#tsp)" opacity="0.94"/>
<circle cx="59.78" cy="92.6" r="9.0" fill="url(#tsp)" opacity="0.90"/>
<circle cx="73.2" cy="92.6" r="9.0" fill="url(#tsp)" opacity="0.87"/>
<circle cx="86.62" cy="92.6" r="9.0" fill="url(#tsp)" opacity="0.98"/>
<circle cx="100.04" cy="92.6" r="9.0" fill="url(#tsp)" opacity="1.00"/>
<circle cx="113.46" cy="92.6" r="9.0" fill="url(#tsp)" opacity="0.87"/>
<circle cx="126.88" cy="92.6" r="9.0" fill="url(#tsp)" opacity="0.97"/>
<circle cx="140.3" cy="92.6" r="9.0" fill="url(#tsp)" opacity="0.92"/>
<circle cx="153.72" cy="92.6" r="9.0" fill="url(#tsp)" opacity="0.88"/>
<circle cx="6.1" cy="110.6" r="9.0" fill="url(#tsp)" opacity="0.90"/>
<circle cx="19.52" cy="110.6" r="9.0" fill="url(#tsp)" opacity="0.97"/>
<circle cx="32.94" cy="110.6" r="9.0" fill="url(#tsp)" opacity="0.98"/>
<circle cx="46.36" cy="110.6" r="9.0" fill="url(#tsp)" opacity="0.87"/>
<circle cx="59.78" cy="110.6" r="9.0" fill="url(#tsp)" opacity="0.95"/>
<circle cx="73.2" cy="110.6" r="9.0" fill="url(#tsp)" opacity="0.87"/>
<circle cx="86.62" cy="110.6" r="9.0" fill="url(#tsp)" opacity="0.96"/>
<circle cx="100.04" cy="110.6" r="9.0" fill="url(#tsp)" opacity="0.91"/>
<circle cx="113.46" cy="110.6" r="9.0" fill="url(#tsp)" opacity="0.98"/>
<circle cx="126.88" cy="110.6" r="9.0" fill="url(#tsp)" opacity="1.00"/>
<circle cx="140.3" cy="110.6" r="9.0" fill="url(#tsp)" opacity="0.93"/>
<circle cx="153.72" cy="110.6" r="9.0" fill="url(#tsp)" opacity="1.00"/>
<circle cx="6.1" cy="128.6" r="9.0" fill="url(#tsp)" opacity="0.90"/>
<circle cx="19.52" cy="128.6" r="9.0" fill="url(#tsp)" opacity="0.87"/>
<circle cx="32.94" cy="128.6" r="9.0" fill="url(#tsp)" opacity="0.94"/>
<circle cx="46.36" cy="128.6" r="9.0" fill="url(#tsp)" opacity="0.86"/>
<circle cx="59.78" cy="128.6" r="9.0" fill="url(#tsp)" opacity="0.89"/>
<circle cx="73.2" cy="128.6" r="9.0" fill="url(#tsp)" opacity="0.92"/>
<circle cx="86.62" cy="128.6" r="9.0" fill="url(#tsp)" opacity="0.95"/>
<circle cx="100.04" cy="128.6" r="9.0" fill="url(#tsp)" opacity="0.88"/>
<circle cx="113.46" cy="128.6" r="9.0" fill="url(#tsp)" opacity="0.87"/>
<circle cx="126.88" cy="128.6" r="9.0" fill="url(#tsp)" opacity="0.98"/>
<circle cx="140.3" cy="128.6" r="9.0" fill="url(#tsp)" opacity="0.90"/>
<circle cx="153.72" cy="128.6" r="9.0" fill="url(#tsp)" opacity="0.99"/>
<circle cx="6.1" cy="141.6" r="9.0" fill="url(#tsp)" opacity="0.99"/>
<circle cx="19.52" cy="141.6" r="9.0" fill="url(#tsp)" opacity="0.91"/>
<circle cx="32.94" cy="141.6" r="9.0" fill="url(#tsp)" opacity="0.92"/>
<circle cx="46.36" cy="141.6" r="9.0" fill="url(#tsp)" opacity="0.93"/>
<circle cx="59.78" cy="141.6" r="9.0" fill="url(#tsp)" opacity="0.95"/>
<circle cx="73.2" cy="141.6" r="9.0" fill="url(#tsp)" opacity="0.94"/>
<circle cx="86.62" cy="141.6" r="9.0" fill="url(#tsp)" opacity="0.94"/>
<circle cx="100.04" cy="141.6" r="9.0" fill="url(#tsp)" opacity="0.95"/>
<circle cx="113.46" cy="141.6" r="9.0" fill="url(#tsp)" opacity="0.99"/>
<circle cx="126.88" cy="141.6" r="9.0" fill="url(#tsp)" opacity="0.93"/>
<circle cx="140.3" cy="141.6" r="9.0" fill="url(#tsp)" opacity="0.92"/>
<circle cx="153.72" cy="141.6" r="9.0" fill="url(#tsp)" opacity="0.96"/>
<circle cx="6.1" cy="159.6" r="9.0" fill="url(#tsp)" opacity="0.89"/>
<circle cx="19.52" cy="159.6" r="9.0" fill="url(#tsp)" opacity="0.90"/>
<circle cx="32.94" cy="159.6" r="9.0" fill="url(#tsp)" opacity="1.00"/>
<circle cx="46.36" cy="159.6" r="9.0" fill="url(#tsp)" opacity="0.93"/>
<circle cx="59.78" cy="159.6" r="9.0" fill="url(#tsp)" opacity="0.94"/>
<circle cx="73.2" cy="159.6" r="9.0" fill="url(#tsp)" opacity="0.86"/>
<circle cx="86.62" cy="159.6" r="9.0" fill="url(#tsp)" opacity="0.92"/>
<circle cx="100.04" cy="159.6" r="9.0" fill="url(#tsp)" opacity="0.94"/>
<circle cx="113.46" cy="159.6" r="9.0" fill="url(#tsp)" opacity="0.86"/>
<circle cx="126.88" cy="159.6" r="9.0" fill="url(#tsp)" opacity="0.95"/>
<circle cx="140.3" cy="159.6" r="9.0" fill="url(#tsp)" opacity="0.95"/>
<circle cx="153.72" cy="159.6" r="9.0" fill="url(#tsp)" opacity="0.87"/>
<circle cx="6.1" cy="177.8" r="9.0" fill="url(#tsp)" opacity="0.95"/>
<circle cx="19.52" cy="177.8" r="9.0" fill="url(#tsp)" opacity="0.93"/>
<circle cx="32.94" cy="177.8" r="9.0" fill="url(#tsp)" opacity="0.96"/>
<circle cx="46.36" cy="177.8" r="9.0" fill="url(#tsp)" opacity="0.91"/>
<circle cx="59.78" cy="177.8" r="9.0" fill="url(#tsp)" opacity="0.96"/>
<circle cx="73.2" cy="177.8" r="9.0" fill="url(#tsp)" opacity="0.96"/>
<circle cx="86.62" cy="177.8" r="9.0" fill="url(#tsp)" opacity="0.86"/>
<circle cx="100.04" cy="177.8" r="9.0" fill="url(#tsp)" opacity="0.87"/>
<circle cx="113.46" cy="177.8" r="9.0" fill="url(#tsp)" opacity="0.95"/>
<circle cx="126.88" cy="177.8" r="9.0" fill="url(#tsp)" opacity="0.99"/>
<circle cx="140.3" cy="177.8" r="9.0" fill="url(#tsp)" opacity="0.90"/>
<circle cx="153.72" cy="177.8" r="9.0" fill="url(#tsp)" opacity="0.92"/>
<circle cx="6.1" cy="195.8" r="9.0" fill="url(#tsp)" opacity="0.94"/>
<circle cx="19.52" cy="195.8" r="9.0" fill="url(#tsp)" opacity="0.90"/>
<circle cx="32.94" cy="195.8" r="9.0" fill="url(#tsp)" opacity="0.91"/>
<circle cx="46.36" cy="195.8" r="9.0" fill="url(#tsp)" opacity="0.90"/>
<circle cx="59.78" cy="195.8" r="9.0" fill="url(#tsp)" opacity="0.91"/>
<circle cx="73.2" cy="195.8" r="9.0" fill="url(#tsp)" opacity="0.94"/>
<circle cx="86.62" cy="195.8" r="9.0" fill="url(#tsp)" opacity="0.90"/>
<circle cx="100.04" cy="195.8" r="9.0" fill="url(#tsp)" opacity="0.91"/>
<circle cx="113.46" cy="195.8" r="9.0" fill="url(#tsp)" opacity="0.97"/>
<circle cx="126.88" cy="195.8" r="9.0" fill="url(#tsp)" opacity="0.86"/>
<circle cx="140.3" cy="195.8" r="9.0" fill="url(#tsp)" opacity="0.94"/>
<circle cx="153.72" cy="195.8" r="9.0" fill="url(#tsp)" opacity="0.96"/>
</svg>
<rect x="150.1" y="35.2" width="162.8" height="67.2" fill="none" stroke="#d42020" stroke-width="2.1"/>
<rect x="150.5" y="206" width="63.8" height="29.5" fill="#161616"/>
<text x="155.2" y="224.6" font-size="22.5" fill="#e4e4e4" style="font-family:'Liberation Mono',monospace">1 nm</text>
<rect x="154.2" y="230.4" width="53.7" height="2.6" fill="#e8e8e8"/>
<text x="0" y="0" font-size="17.5" font-weight="bold" fill="#111" transform="translate(291.2 17.1) scale(0.92 1)">b)</text>
<line x1="393" y1="207.3" x2="619.7" y2="18.1" stroke="#111" stroke-width="2.2" stroke-dasharray="2.1 3.08"/>
<line x1="393" y1="42.5" x2="619.7" y2="53.8" stroke="#f0a830" stroke-width="2.2" stroke-dasharray="2.1 3.05"/>
<line x1="393" y1="194.9" x2="619.7" y2="205.1" stroke="#a82828" stroke-width="2.2" stroke-dasharray="2.1 3.05"/>
<circle cx="393" cy="213.9" r="4.4" fill="#000" stroke="none" stroke-width="1"/>
<circle cx="425.4" cy="186.6" r="4.4" fill="#000" stroke="none" stroke-width="1"/>
<circle cx="457.5" cy="159.6" r="4.4" fill="#000" stroke="none" stroke-width="1"/>
<circle cx="479.4" cy="122.3" r="4.4" fill="#000" stroke="none" stroke-width="1"/>
<circle cx="490.3" cy="106.6" r="4.4" fill="#000" stroke="none" stroke-width="1"/>
<circle cx="555.2" cy="79.3" r="4.4" fill="#000" stroke="none" stroke-width="1"/>
<circle cx="587.5" cy="48.6" r="4.4" fill="#000" stroke="none" stroke-width="1"/>
<circle cx="619.7" cy="20.4" r="4.4" fill="#000" stroke="none" stroke-width="1"/>
<rect x="389.7" y="41.8" width="7.6" height="7.6" fill="#eea52c" stroke="#1a1a1a" stroke-width="1.3"/>
<rect x="421.7" y="41.8" width="7.6" height="7.6" fill="#eea52c" stroke="#1a1a1a" stroke-width="1.3"/>
<rect x="454.1" y="39.7" width="7.6" height="7.6" fill="#eea52c" stroke="#1a1a1a" stroke-width="1.3"/>
<rect x="475.7" y="37.9" width="7.6" height="7.6" fill="#eea52c" stroke="#1a1a1a" stroke-width="1.3"/>
<rect x="486.5" y="43.3" width="7.6" height="7.6" fill="#eea52c" stroke="#1a1a1a" stroke-width="1.3"/>
<rect x="551.4" y="47.9" width="7.6" height="7.6" fill="#eea52c" stroke="#1a1a1a" stroke-width="1.3"/>
<rect x="583.7" y="50.3" width="7.6" height="7.6" fill="#eea52c" stroke="#1a1a1a" stroke-width="1.3"/>
<rect x="615.9" y="50" width="7.6" height="7.6" fill="#eea52c" stroke="#1a1a1a" stroke-width="1.3"/>
<rect x="389.2" y="192.9" width="7.6" height="7.6" fill="#ad2d2d" stroke="#1a1a1a" stroke-width="1.3"/>
<rect x="421.6" y="195.1" width="7.6" height="7.6" fill="#ad2d2d" stroke="#1a1a1a" stroke-width="1.3"/>
<rect x="453.7" y="193.4" width="7.6" height="7.6" fill="#ad2d2d" stroke="#1a1a1a" stroke-width="1.3"/>
<rect x="475.6" y="191.1" width="7.6" height="7.6" fill="#ad2d2d" stroke="#1a1a1a" stroke-width="1.3"/>
<rect x="486.6" y="192.9" width="7.6" height="7.6" fill="#ad2d2d" stroke="#1a1a1a" stroke-width="1.3"/>
<rect x="551.6" y="200.5" width="7.6" height="7.6" fill="#ad2d2d" stroke="#1a1a1a" stroke-width="1.3"/>
<rect x="583.5" y="198.6" width="7.6" height="7.6" fill="#ad2d2d" stroke="#1a1a1a" stroke-width="1.3"/>
<rect x="615.9" y="203.2" width="7.6" height="7.6" fill="#ad2d2d" stroke="#1a1a1a" stroke-width="1.3"/>
<line x1="452.6" y1="144.5" x2="424.6" y2="144.5" stroke="#000" stroke-width="2.7"/>
<path d="M408 144.5L424.6 139.9L424.6 149.1Z" fill="#000"/>
<line x1="565" y1="43.7" x2="593.5" y2="43.7" stroke="#e8a22a" stroke-width="2.8"/>
<path d="M610 43.7L593.5 39.2L593.5 48.2Z" fill="#e8a22a"/>
<line x1="564.9" y1="192.4" x2="593.2" y2="192.4" stroke="#a52a2a" stroke-width="2.8"/>
<path d="M609.8 192.4L593.2 187.9L593.2 196.9Z" fill="#a52a2a"/>
<circle cx="597.3" cy="100.4" r="4.4" fill="#000" stroke="none" stroke-width="1"/>
<rect x="593.5" y="111.5" width="7.6" height="7.6" fill="#eea52c" stroke="#1a1a1a" stroke-width="1.3"/>
<rect x="593.5" y="126.4" width="7.6" height="7.6" fill="#ad2d2d" stroke="#1a1a1a" stroke-width="1.3"/>
<text x="615.5" y="104.3" font-size="11" text-anchor="start" fill="#222" font-weight="normal" >a</text>
<text x="615.5" y="119.3" font-size="11" text-anchor="start" fill="#222" font-weight="normal" >b</text>
<text x="615.5" y="134.3" font-size="11" text-anchor="start" fill="#222" font-weight="normal" >c</text>
<rect x="381.8" y="8.45" width="249.1" height="214.75" fill="none" stroke="#111" stroke-width="1.4"/>
<line x1="381.8" y1="212.4" x2="386.3" y2="212.4" stroke="#111" stroke-width="1.2" />
<text x="376.8" y="217" font-size="11.3" text-anchor="end" fill="#222" font-weight="normal" >14.250</text>
<line x1="381.8" y1="198.25" x2="384.3" y2="198.25" stroke="#111" stroke-width="1.2" />
<line x1="381.8" y1="184.1" x2="386.3" y2="184.1" stroke="#111" stroke-width="1.2" />
<text x="376.8" y="188.7" font-size="11.3" text-anchor="end" fill="#222" font-weight="normal" >14.255</text>
<line x1="381.8" y1="169.95" x2="384.3" y2="169.95" stroke="#111" stroke-width="1.2" />
<line x1="381.8" y1="155.8" x2="386.3" y2="155.8" stroke="#111" stroke-width="1.2" />
<text x="376.8" y="160.4" font-size="11.3" text-anchor="end" fill="#222" font-weight="normal" >14.260</text>
<line x1="381.8" y1="141.65" x2="384.3" y2="141.65" stroke="#111" stroke-width="1.2" />
<line x1="381.8" y1="127.5" x2="386.3" y2="127.5" stroke="#111" stroke-width="1.2" />
<text x="376.8" y="132.1" font-size="11.3" text-anchor="end" fill="#222" font-weight="normal" >14.265</text>
<line x1="381.8" y1="113.35" x2="384.3" y2="113.35" stroke="#111" stroke-width="1.2" />
<line x1="381.8" y1="99.2" x2="386.3" y2="99.2" stroke="#111" stroke-width="1.2" />
<text x="376.8" y="103.8" font-size="11.3" text-anchor="end" fill="#222" font-weight="normal" >14.270</text>
<line x1="381.8" y1="85.05" x2="384.3" y2="85.05" stroke="#111" stroke-width="1.2" />
<line x1="381.8" y1="70.9" x2="386.3" y2="70.9" stroke="#111" stroke-width="1.2" />
<text x="376.8" y="75.5" font-size="11.3" text-anchor="end" fill="#222" font-weight="normal" >14.275</text>
<line x1="381.8" y1="56.75" x2="384.3" y2="56.75" stroke="#111" stroke-width="1.2" />
<line x1="381.8" y1="42.6" x2="386.3" y2="42.6" stroke="#111" stroke-width="1.2" />
<text x="376.8" y="47.2" font-size="11.3" text-anchor="end" fill="#222" font-weight="normal" >14.280</text>
<line x1="381.8" y1="28.45" x2="384.3" y2="28.45" stroke="#111" stroke-width="1.2" />
<line x1="381.8" y1="14.3" x2="386.3" y2="14.3" stroke="#111" stroke-width="1.2" />
<text x="376.8" y="18.9" font-size="11.3" text-anchor="end" fill="#222" font-weight="normal" >14.285</text>
<text x="635.9" y="227.3" font-size="11.3" text-anchor="start" fill="#222" font-weight="normal" >5.41</text>
<line x1="628.4" y1="207.86" x2="630.9" y2="207.86" stroke="#111" stroke-width="1.2" />
<line x1="626.4" y1="192.52" x2="630.9" y2="192.52" stroke="#111" stroke-width="1.2" />
<text x="635.9" y="196.62" font-size="11.3" text-anchor="start" fill="#222" font-weight="normal" >5.42</text>
<line x1="628.4" y1="177.18" x2="630.9" y2="177.18" stroke="#111" stroke-width="1.2" />
<line x1="626.4" y1="161.84" x2="630.9" y2="161.84" stroke="#111" stroke-width="1.2" />
<text x="635.9" y="165.94" font-size="11.3" text-anchor="start" fill="#222" font-weight="normal" >5.43</text>
<line x1="628.4" y1="146.5" x2="630.9" y2="146.5" stroke="#111" stroke-width="1.2" />
<line x1="626.4" y1="131.16" x2="630.9" y2="131.16" stroke="#111" stroke-width="1.2" />
<text x="635.9" y="135.26" font-size="11.3" text-anchor="start" fill="#222" font-weight="normal" >5.44</text>
<line x1="628.4" y1="115.82" x2="630.9" y2="115.82" stroke="#111" stroke-width="1.2" />
<line x1="626.4" y1="100.48" x2="630.9" y2="100.48" stroke="#111" stroke-width="1.2" />
<text x="635.9" y="104.58" font-size="11.3" text-anchor="start" fill="#222" font-weight="normal" >5.45</text>
<line x1="628.4" y1="85.14" x2="630.9" y2="85.14" stroke="#111" stroke-width="1.2" />
<line x1="626.4" y1="69.8" x2="630.9" y2="69.8" stroke="#111" stroke-width="1.2" />
<text x="635.9" y="73.9" font-size="11.3" text-anchor="start" fill="#222" font-weight="normal" >5.46</text>
<line x1="628.4" y1="54.46" x2="630.9" y2="54.46" stroke="#111" stroke-width="1.2" />
<line x1="626.4" y1="39.12" x2="630.9" y2="39.12" stroke="#111" stroke-width="1.2" />
<text x="635.9" y="43.22" font-size="11.3" text-anchor="start" fill="#222" font-weight="normal" >5.47</text>
<line x1="628.4" y1="23.78" x2="630.9" y2="23.78" stroke="#111" stroke-width="1.2" />
<text x="635.9" y="12.54" font-size="11.3" text-anchor="start" fill="#222" font-weight="normal" >5.48</text>
<text x="382.2" y="236.9" font-size="11.3" text-anchor="middle" fill="#222" font-weight="normal" >0.05</text>
<line x1="409.18" y1="223.2" x2="409.18" y2="220.7" stroke="#111" stroke-width="1.2" />
<line x1="436.15" y1="223.2" x2="436.15" y2="218.7" stroke="#111" stroke-width="1.2" />
<text x="436.15" y="236.9" font-size="11.3" text-anchor="middle" fill="#222" font-weight="normal" >0.10</text>
<line x1="463.12" y1="223.2" x2="463.12" y2="220.7" stroke="#111" stroke-width="1.2" />
<line x1="490.1" y1="223.2" x2="490.1" y2="218.7" stroke="#111" stroke-width="1.2" />
<text x="490.1" y="236.9" font-size="11.3" text-anchor="middle" fill="#222" font-weight="normal" >0.15</text>
<line x1="517.08" y1="223.2" x2="517.08" y2="220.7" stroke="#111" stroke-width="1.2" />
<line x1="544.05" y1="223.2" x2="544.05" y2="218.7" stroke="#111" stroke-width="1.2" />
<text x="544.05" y="236.9" font-size="11.3" text-anchor="middle" fill="#222" font-weight="normal" >0.20</text>
<line x1="571.02" y1="223.2" x2="571.02" y2="220.7" stroke="#111" stroke-width="1.2" />
<line x1="598" y1="223.2" x2="598" y2="218.7" stroke="#111" stroke-width="1.2" />
<text x="598" y="236.9" font-size="11.3" text-anchor="middle" fill="#222" font-weight="normal" >0.25</text>
<line x1="624.98" y1="223.2" x2="624.98" y2="220.7" stroke="#111" stroke-width="1.2" />
<text x="506.4" y="255.1" font-size="14.3" text-anchor="middle" fill="#222" font-weight="normal" >Cu doping (x)</text>
<text x="331.9" y="116.2" font-size="14.5" text-anchor="middle" fill="#222" font-weight="normal" stroke="#222" stroke-width="0.3" transform="rotate(-90 331.9 116.2)">a (Å)</text>
<text x="677.2" y="115.8" font-size="14.3" text-anchor="middle" fill="#222" font-weight="normal" stroke="#222" stroke-width="0.3" transform="rotate(-90 677.2 115.8)">b, c (Å)</text>
<text x="0" y="0" font-size="17.5" font-weight="bold" fill="#111" transform="translate(19.3 274.9) scale(0.92 1)">c)</text>
<line x1="72.15" y1="307.7" x2="308.4" y2="450.1" stroke="#ef7f22" stroke-width="2.1" stroke-dasharray="7.1 3.2"/>
<path d="M72.15 295.12L76.15 301.22L72.15 307.32L68.15 301.22Z" fill="#ef7f22" stroke="none" stroke-width="1"/>
<path d="M105.89 274.68L109.89 280.78L105.89 286.88L101.89 280.78Z" fill="#ef7f22" stroke="none" stroke-width="1"/>
<path d="M139.64 356.44L143.64 362.54L139.64 368.64L135.64 362.54Z" fill="#ef7f22" stroke="none" stroke-width="1"/>
<path d="M162.13 376.88L166.13 382.98L162.13 389.08L158.13 382.98Z" fill="#ef7f22" stroke="none" stroke-width="1"/>
<path d="M173.38 417.76L177.38 423.86L173.38 429.96L169.38 423.86Z" fill="#ef7f22" stroke="none" stroke-width="1"/>
<path d="M240.87 356.44L244.87 362.54L240.87 368.64L236.87 362.54Z" fill="#ef7f22" stroke="none" stroke-width="1"/>
<path d="M274.61 458.64L278.61 464.74L274.61 470.84L270.61 464.74Z" fill="#ef7f22" stroke="none" stroke-width="1"/>
<path d="M308.36 417.76L312.36 423.86L308.36 429.96L304.36 423.86Z" fill="#ef7f22" stroke="none" stroke-width="1"/>
<rect x="60.4" y="271.9" width="259.6" height="202.5" fill="none" stroke="#111" stroke-width="1.4"/>
<line x1="60.4" y1="444.3" x2="64.4" y2="444.3" stroke="#111" stroke-width="1.2" />
<text x="55.3" y="448.4" font-size="11.3" text-anchor="end" fill="#222" font-weight="normal" >166</text>
<line x1="60.4" y1="403.42" x2="64.4" y2="403.42" stroke="#111" stroke-width="1.2" />
<text x="55.3" y="407.52" font-size="11.3" text-anchor="end" fill="#222" font-weight="normal" >168</text>
<line x1="60.4" y1="362.54" x2="64.4" y2="362.54" stroke="#111" stroke-width="1.2" />
<text x="55.3" y="366.64" font-size="11.3" text-anchor="end" fill="#222" font-weight="normal" >170</text>
<line x1="60.4" y1="321.66" x2="64.4" y2="321.66" stroke="#111" stroke-width="1.2" />
<text x="55.3" y="325.76" font-size="11.3" text-anchor="end" fill="#222" font-weight="normal" >172</text>
<line x1="60.4" y1="280.78" x2="64.4" y2="280.78" stroke="#111" stroke-width="1.2" />
<text x="55.3" y="284.88" font-size="11.3" text-anchor="end" fill="#222" font-weight="normal" >174</text>
<line x1="60.9" y1="474.4" x2="60.9" y2="470.4" stroke="#111" stroke-width="1.2" />
<text x="60.9" y="488" font-size="11.3" text-anchor="middle" fill="#222" font-weight="normal" >0.05</text>
<line x1="117.14" y1="474.4" x2="117.14" y2="470.4" stroke="#111" stroke-width="1.2" />
<text x="117.14" y="488" font-size="11.3" text-anchor="middle" fill="#222" font-weight="normal" >0.10</text>
<line x1="173.38" y1="474.4" x2="173.38" y2="470.4" stroke="#111" stroke-width="1.2" />
<text x="173.38" y="488" font-size="11.3" text-anchor="middle" fill="#222" font-weight="normal" >0.15</text>
<line x1="229.62" y1="474.4" x2="229.62" y2="470.4" stroke="#111" stroke-width="1.2" />
<text x="229.62" y="488" font-size="11.3" text-anchor="middle" fill="#222" font-weight="normal" >0.20</text>
<line x1="285.86" y1="474.4" x2="285.86" y2="470.4" stroke="#111" stroke-width="1.2" />
<text x="285.86" y="488" font-size="11.3" text-anchor="middle" fill="#222" font-weight="normal" >0.25</text>
<text x="190.2" y="505" font-size="14.3" text-anchor="middle" fill="#222" font-weight="normal" >Cu doping (x)</text>
<text x="28.2" y="373.2" font-size="14.3" text-anchor="middle" fill="#222" font-weight="normal" stroke="#222" stroke-width="0.3" transform="rotate(-90 28.2 373.2)">Angle (°)</text>
<rect x="210.6" y="276.8" width="104.4" height="17.8" rx="2" fill="#fff" stroke="#cfcfcf" stroke-width="1"/>
<path d="M225 279.6L229 285.7L225 291.8L221 285.7Z" fill="#ef7f22" stroke="none" stroke-width="1"/>
<text x="243.4" y="289.4" font-size="10.3" text-anchor="start" fill="#222" font-weight="normal" >Ni–O–Ni angle</text>
<text x="0" y="0" font-size="17.5" font-weight="bold" fill="#111" transform="translate(321.6 274.9) scale(0.92 1)">d)</text>
<rect x="388.05" y="459.2" width="7.8" height="7.8" fill="#ad2d2d" stroke="#111" stroke-width="1.2"/>
<rect x="398.3" y="459.4" width="7.8" height="7.8" fill="#ad2d2d" stroke="#111" stroke-width="1.2"/>
<rect x="408.55" y="458.6" width="7.8" height="7.8" fill="#ad2d2d" stroke="#111" stroke-width="1.2"/>
<rect x="418.8" y="457.2" width="7.8" height="7.8" fill="#ad2d2d" stroke="#111" stroke-width="1.2"/>
<rect x="429.05" y="456.9" width="7.8" height="7.8" fill="#ad2d2d" stroke="#111" stroke-width="1.2"/>
<rect x="439.31" y="458.6" width="7.8" height="7.8" fill="#ad2d2d" stroke="#111" stroke-width="1.2"/>
<rect x="459.81" y="453.3" width="7.8" height="7.8" fill="#ad2d2d" stroke="#111" stroke-width="1.2"/>
<rect x="480.31" y="447.6" width="7.8" height="7.8" fill="#ad2d2d" stroke="#111" stroke-width="1.2"/>
<circle cx="402.2" cy="444.8" r="3.9" fill="#2e8b22" stroke="#111" stroke-width="1.2"/>
<circle cx="412.45" cy="450.5" r="3.9" fill="#2e8b22" stroke="#111" stroke-width="1.2"/>
<circle cx="422.7" cy="433" r="3.9" fill="#2e8b22" stroke="#111" stroke-width="1.2"/>
<circle cx="432.95" cy="393" r="3.9" fill="#2e8b22" stroke="#111" stroke-width="1.2"/>
<circle cx="432.95" cy="399.9" r="3.9" fill="#2e8b22" stroke="#111" stroke-width="1.2"/>
<circle cx="443.2" cy="396.8" r="3.9" fill="#2e8b22" stroke="#111" stroke-width="1.2"/>
<circle cx="453.46" cy="398.1" r="3.9" fill="#2e8b22" stroke="#111" stroke-width="1.2"/>
<circle cx="463.71" cy="359.1" r="3.9" fill="#2e8b22" stroke="#111" stroke-width="1.2"/>
<circle cx="473.96" cy="354.3" r="3.9" fill="#2e8b22" stroke="#111" stroke-width="1.2"/>
<circle cx="484.21" cy="310.1" r="3.9" fill="#2e8b22" stroke="#111" stroke-width="1.2"/>
<circle cx="494.46" cy="355.5" r="3.9" fill="#2e8b22" stroke="#111" stroke-width="1.2"/>
<circle cx="514.96" cy="281" r="3.9" fill="#2e8b22" stroke="#111" stroke-width="1.2"/>
<circle cx="545.71" cy="354.4" r="3.9" fill="#2e8b22" stroke="#111" stroke-width="1.2"/>
<circle cx="555.97" cy="363" r="3.9" fill="#2e8b22" stroke="#111" stroke-width="1.2"/>
<circle cx="566.22" cy="312.9" r="3.9" fill="#2e8b22" stroke="#111" stroke-width="1.2"/>
<circle cx="586.72" cy="321.8" r="3.9" fill="#2e8b22" stroke="#111" stroke-width="1.2"/>
<circle cx="627.72" cy="316" r="3.9" fill="#2e8b22" stroke="#111" stroke-width="1.2"/>
<line x1="391.95" y1="449.5" x2="564.6" y2="271.3" stroke="#0a14f0" stroke-width="2.2" stroke-dasharray="2.2 2.93"/>
<line x1="392.35" y1="469.4" x2="485.01" y2="326.9" stroke="#2b8a20" stroke-width="2.2" stroke-dasharray="2.2 2.93"/>
<line x1="484.21" y1="326.9" x2="625.72" y2="326.9" stroke="#2b8a20" stroke-width="2.2" stroke-dasharray="2.2 2.93"/>
<line x1="391.95" y1="464.2" x2="627.72" y2="438.9" stroke="#a83030" stroke-width="2.2" stroke-dasharray="2.2 2.93"/>
<path d="M391.95 427.6L395.45 433.3L391.95 439L388.45 433.3Z" fill="#0a14f0" stroke="#111" stroke-width="1"/>
<path d="M402.2 430.8L405.7 436.5L402.2 442.2L398.7 436.5Z" fill="#0a14f0" stroke="#111" stroke-width="1"/>
<path d="M412.45 422.4L415.95 428.1L412.45 433.8L408.95 428.1Z" fill="#0a14f0" stroke="#111" stroke-width="1"/>
<path d="M422.7 412.1L426.2 417.8L422.7 423.5L419.2 417.8Z" fill="#0a14f0" stroke="#111" stroke-width="1"/>
<path d="M432.95 406.9L436.45 412.6L432.95 418.3L429.45 412.6Z" fill="#0a14f0" stroke="#111" stroke-width="1"/>
<path d="M443.2 423.1L446.7 428.8L443.2 434.5L439.7 428.8Z" fill="#0a14f0" stroke="#111" stroke-width="1"/>
<path d="M463.71 374.9L467.21 380.6L463.71 386.3L460.21 380.6Z" fill="#0a14f0" stroke="#111" stroke-width="1"/>
<path d="M484.21 324.9L487.71 330.6L484.21 336.3L480.71 330.6Z" fill="#0a14f0" stroke="#111" stroke-width="1"/>
<line x1="426.8" y1="401.5" x2="408" y2="401.5" stroke="#2b8a20" stroke-width="2.8"/>
<path d="M390.9 401.5L408 396.75L408 406.25Z" fill="#2b8a20"/>
<line x1="476.6" y1="383.9" x2="495.5" y2="383.9" stroke="#0a14f0" stroke-width="2.8"/>
<path d="M512.8 383.9L495.5 379.3L495.5 388.5Z" fill="#0a14f0"/>
<line x1="463.8" y1="450.6" x2="445" y2="450.6" stroke="#a83030" stroke-width="2.7"/>
<path d="M428.4 450.6L445 446.15L445 455.05Z" fill="#a83030"/>
<text x="545.9" y="304.8" font-size="12.9" text-anchor="start" fill="#2b8a20" font-weight="normal" >plateau n</text>
<text x="0" y="0" font-size="13" fill="#2b8a20" transform="translate(418.0 394.6) rotate(-54.5)">increasing n</text>
<circle cx="399.6" cy="284.8" r="3.9" fill="#2e8b22" stroke="#111" stroke-width="1.1"/>
<rect x="395.6" y="296.6" width="8" height="8" fill="#a52a2a" stroke="#111" stroke-width="1.1"/>
<path d="M399.6 310.3L403 315.8L399.6 321.3L396.2 315.8Z" fill="#0a14f0" stroke="#111" stroke-width="0.9"/>
<text x="418.8" y="288.4" font-size="10.3" text-anchor="start" fill="#222" font-weight="normal" >Measured <tspan font-style="italic">n</tspan></text>
<text x="418.8" y="304.2" font-size="10.3" text-anchor="start" fill="#222" font-weight="normal" >Expected <tspan font-style="italic">n</tspan> from δ</text>
<text x="418.8" y="319.6" font-size="10.3" text-anchor="start" fill="#222" font-weight="normal" >δ</text>
<rect x="380.2" y="271.2" width="259.5" height="207.1" fill="none" stroke="#111" stroke-width="1.4"/>
<line x1="380.2" y1="476.95" x2="383" y2="476.95" stroke="#111" stroke-width="1.2" />
<line x1="380.2" y1="463.9" x2="384.7" y2="463.9" stroke="#111" stroke-width="1.2" />
<text x="375" y="468" font-size="11.3" text-anchor="end" fill="#222" font-weight="normal" >0.4</text>
<line x1="380.2" y1="450.85" x2="383" y2="450.85" stroke="#111" stroke-width="1.2" />
<line x1="380.2" y1="437.8" x2="384.7" y2="437.8" stroke="#111" stroke-width="1.2" />
<text x="375" y="441.9" font-size="11.3" text-anchor="end" fill="#222" font-weight="normal" >0.6</text>
<line x1="380.2" y1="424.75" x2="383" y2="424.75" stroke="#111" stroke-width="1.2" />
<line x1="380.2" y1="411.7" x2="384.7" y2="411.7" stroke="#111" stroke-width="1.2" />
<text x="375" y="415.8" font-size="11.3" text-anchor="end" fill="#222" font-weight="normal" >0.8</text>
<line x1="380.2" y1="398.65" x2="383" y2="398.65" stroke="#111" stroke-width="1.2" />
<line x1="380.2" y1="385.6" x2="384.7" y2="385.6" stroke="#111" stroke-width="1.2" />
<text x="375" y="389.7" font-size="11.3" text-anchor="end" fill="#222" font-weight="normal" >1.0</text>
<line x1="380.2" y1="372.55" x2="383" y2="372.55" stroke="#111" stroke-width="1.2" />
<line x1="380.2" y1="359.5" x2="384.7" y2="359.5" stroke="#111" stroke-width="1.2" />
<text x="375" y="363.6" font-size="11.3" text-anchor="end" fill="#222" font-weight="normal" >1.2</text>
<line x1="380.2" y1="346.45" x2="383" y2="346.45" stroke="#111" stroke-width="1.2" />
<line x1="380.2" y1="333.4" x2="384.7" y2="333.4" stroke="#111" stroke-width="1.2" />
<text x="375" y="337.5" font-size="11.3" text-anchor="end" fill="#222" font-weight="normal" >1.4</text>
<line x1="380.2" y1="320.35" x2="383" y2="320.35" stroke="#111" stroke-width="1.2" />
<line x1="380.2" y1="307.3" x2="384.7" y2="307.3" stroke="#111" stroke-width="1.2" />
<text x="375" y="311.4" font-size="11.3" text-anchor="end" fill="#222" font-weight="normal" >1.6</text>
<line x1="380.2" y1="294.25" x2="383" y2="294.25" stroke="#111" stroke-width="1.2" />
<line x1="380.2" y1="281.2" x2="384.7" y2="281.2" stroke="#111" stroke-width="1.2" />
<text x="375" y="285.3" font-size="11.3" text-anchor="end" fill="#222" font-weight="normal" >1.8</text>
<text x="644.1" y="482.6" font-size="11.3" text-anchor="start" fill="#222" font-weight="normal" >0.00</text>
<line x1="636.9" y1="463.51" x2="639.7" y2="463.51" stroke="#111" stroke-width="1.2" />
<line x1="635.2" y1="448.72" x2="639.7" y2="448.72" stroke="#111" stroke-width="1.2" />
<text x="644.1" y="453.02" font-size="11.3" text-anchor="start" fill="#222" font-weight="normal" >0.05</text>
<line x1="636.9" y1="433.93" x2="639.7" y2="433.93" stroke="#111" stroke-width="1.2" />
<line x1="635.2" y1="419.14" x2="639.7" y2="419.14" stroke="#111" stroke-width="1.2" />
<text x="644.1" y="423.44" font-size="11.3" text-anchor="start" fill="#222" font-weight="normal" >0.10</text>
<line x1="636.9" y1="404.35" x2="639.7" y2="404.35" stroke="#111" stroke-width="1.2" />
<line x1="635.2" y1="389.56" x2="639.7" y2="389.56" stroke="#111" stroke-width="1.2" />
<text x="644.1" y="393.86" font-size="11.3" text-anchor="start" fill="#222" font-weight="normal" >0.15</text>
<line x1="636.9" y1="374.77" x2="639.7" y2="374.77" stroke="#111" stroke-width="1.2" />
<line x1="635.2" y1="359.98" x2="639.7" y2="359.98" stroke="#111" stroke-width="1.2" />
<text x="644.1" y="364.28" font-size="11.3" text-anchor="start" fill="#222" font-weight="normal" >0.20</text>
<line x1="636.9" y1="345.19" x2="639.7" y2="345.19" stroke="#111" stroke-width="1.2" />
<line x1="635.2" y1="330.4" x2="639.7" y2="330.4" stroke="#111" stroke-width="1.2" />
<text x="644.1" y="334.7" font-size="11.3" text-anchor="start" fill="#222" font-weight="normal" >0.25</text>
<line x1="636.9" y1="315.61" x2="639.7" y2="315.61" stroke="#111" stroke-width="1.2" />
<line x1="635.2" y1="300.82" x2="639.7" y2="300.82" stroke="#111" stroke-width="1.2" />
<text x="644.1" y="305.12" font-size="11.3" text-anchor="start" fill="#222" font-weight="normal" >0.30</text>
<line x1="636.9" y1="286.03" x2="639.7" y2="286.03" stroke="#111" stroke-width="1.2" />
<text x="644.1" y="275.54" font-size="11.3" text-anchor="start" fill="#222" font-weight="normal" >0.35</text>
<line x1="391.95" y1="478.3" x2="391.95" y2="473.8" stroke="#111" stroke-width="1.2" />
<text x="391.95" y="491.6" font-size="11.3" text-anchor="middle" fill="#222" font-weight="normal" >0.0</text>
<line x1="426.12" y1="478.3" x2="426.12" y2="475.5" stroke="#111" stroke-width="1.2" />
<line x1="460.29" y1="478.3" x2="460.29" y2="473.8" stroke="#111" stroke-width="1.2" />
<text x="460.29" y="491.6" font-size="11.3" text-anchor="middle" fill="#222" font-weight="normal" >0.2</text>
<line x1="494.46" y1="478.3" x2="494.46" y2="475.5" stroke="#111" stroke-width="1.2" />
<line x1="528.63" y1="478.3" x2="528.63" y2="473.8" stroke="#111" stroke-width="1.2" />
<text x="528.63" y="491.6" font-size="11.3" text-anchor="middle" fill="#222" font-weight="normal" >0.4</text>
<line x1="562.8" y1="478.3" x2="562.8" y2="475.5" stroke="#111" stroke-width="1.2" />
<line x1="596.97" y1="478.3" x2="596.97" y2="473.8" stroke="#111" stroke-width="1.2" />
<text x="596.97" y="491.6" font-size="11.3" text-anchor="middle" fill="#222" font-weight="normal" >0.6</text>
<line x1="631.14" y1="478.3" x2="631.14" y2="475.5" stroke="#111" stroke-width="1.2" />
<text x="380.5" y="268" font-size="11" text-anchor="start" fill="#222" font-weight="normal" >1e22</text>
<text x="509.7" y="510.6" font-size="14.3" text-anchor="middle" fill="#222" font-weight="normal" >Cu-substitution (x)</text>
<text x="0" y="0" font-size="14.3" fill="#222" stroke="#222" stroke-width="0.3" text-anchor="middle" transform="translate(349.5 375.4) rotate(-90)">Carrier Concentration (cm<tspan font-size="10.5" dy="-5.5" dx="1">−3</tspan><tspan dy="5.5" dx="1">)</tspan></text>
<text x="0" y="0" font-size="14" fill="#222" font-style="italic" text-anchor="middle" transform="translate(682.8 375.2) rotate(-90)">δ</text>
</svg></body></html>
